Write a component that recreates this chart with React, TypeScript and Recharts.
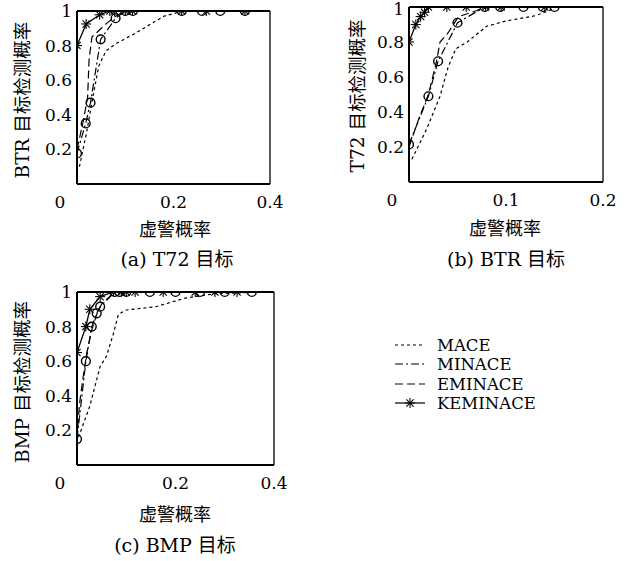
import React from 'react';
import { LineChart, Line, XAxis, YAxis, ReferenceLine } from 'recharts';

const FONT = "'DejaVu Serif', 'Noto Sans CJK SC', serif";

// ---------- Panel (a) T72 目标 ----------
const aMace: [number, number][] = [[0.005, 0.1], [0.02, 0.3], [0.034, 0.52], [0.045, 0.68], [0.06, 0.77], [0.08, 0.81], [0.12, 0.87], [0.18, 0.97], [0.22, 1], [0.26, 1], [0.3, 1], [0.348, 1]];
const aMinace: [number, number][] = [[0, 0.177], [0.018, 0.35], [0.028, 0.47], [0.049, 0.836], [0.08, 0.958], [0.1, 1], [0.116, 1], [0.217, 1], [0.259, 1], [0.297, 1], [0.348, 1]];
const aEminace: [number, number][] = [[0, 0.2], [0.012, 0.35], [0.022, 0.5], [0.025, 0.72], [0.031, 0.85], [0.062, 0.93], [0.08, 0.97], [0.1, 1], [0.348, 1]];
const aKeminace: [number, number][] = [[0, 0.8], [0.019, 0.925], [0.047, 0.978], [0.068, 1], [0.078, 1], [0.1, 1], [0.115, 1], [0.217, 1], [0.268, 1], [0.348, 1]];
const aXTicks = [0, 0.2, 0.4];

// ---------- Panel (b) BTR 目标 ----------
const bMace: [number, number][] = [[0.003, 0.13], [0.018, 0.3], [0.032, 0.49], [0.04, 0.65], [0.048, 0.76], [0.06, 0.8], [0.08, 0.89], [0.1, 0.92], [0.13, 0.95], [0.145, 0.98], [0.15, 1]];
const bMinace: [number, number][] = [[0, 0.215], [0.02, 0.49], [0.03, 0.69], [0.05, 0.91], [0.078, 1], [0.094, 1], [0.118, 1], [0.138, 1], [0.15, 1]];
const bEminace: [number, number][] = [[0, 0.2], [0.01, 0.36], [0.02, 0.5], [0.028, 0.68], [0.032, 0.8], [0.04, 0.85], [0.051, 0.945], [0.07, 0.98], [0.078, 1], [0.15, 1]];
const bKeminace: [number, number][] = [[0, 0.8], [0.007, 0.9], [0.012, 0.945], [0.016, 0.97], [0.02, 1], [0.039, 1], [0.059, 1], [0.079, 1], [0.095, 1], [0.14, 1]];
const bXTicks = [0, 0.1, 0.2];

// ---------- Panel (c) BMP 目标 ----------
const cMace: [number, number][] = [[0.003, 0.16], [0.026, 0.34], [0.047, 0.57], [0.06, 0.63], [0.074, 0.76], [0.084, 0.87], [0.1, 0.896], [0.16, 0.915], [0.22, 0.965], [0.28, 0.99], [0.38, 1]];
const cMinace: [number, number][] = [[0, 0.15], [0.018, 0.6], [0.03, 0.8], [0.04, 0.877], [0.047, 0.915], [0.077, 1], [0.086, 1], [0.1, 1], [0.148, 1], [0.2, 1], [0.25, 1], [0.3, 1], [0.355, 1]];
const cEminace: [number, number][] = [[0, 0.15], [0.005, 0.35], [0.012, 0.5], [0.02, 0.65], [0.03, 0.78], [0.04, 0.87], [0.05, 0.93], [0.077, 1], [0.355, 1]];
const cKeminace: [number, number][] = [[0, 0.65], [0.018, 0.8], [0.026, 0.9], [0.047, 0.973], [0.074, 1], [0.09, 1], [0.1, 1], [0.118, 1], [0.175, 1], [0.24, 1], [0.28, 1], [0.325, 1]];
const cXTicks = [0, 0.2, 0.4];

const yTicks = [0.2, 0.4, 0.6, 0.8, 1];
const legendNames = ['MACE', 'MINACE', 'EMINACE', 'KEMINACE'];

const toRows = (pts: [number, number][]) => pts.map(([x, y]) => ({ x, y }));

const Star = (props: any) => {
  const { cx, cy, index } = props;
  if (cx == null || cy == null) return <g key={index} />;
  const r = 5;
  const d = r * 0.72;
  return (
    <g key={index} stroke="#000" strokeWidth={1.1}>
      <line x1={cx - r} y1={cy} x2={cx + r} y2={cy} />
      <line x1={cx} y1={cy - r} x2={cx} y2={cy + r} />
      <line x1={cx - d} y1={cy - d} x2={cx + d} y2={cy + d} />
      <line x1={cx - d} y1={cy + d} x2={cx + d} y2={cy - d} />
    </g>
  );
};

const Ring = (props: any) => {
  const { cx, cy, index } = props;
  if (cx == null || cy == null) return <g key={index} />;
  return <circle key={index} cx={cx} cy={cy} r={4.4} fill="none" stroke="#000" strokeWidth={1.4} />;
};

const XTick = (props: any) => {
  const { x, y, payload } = props;
  const dx = payload.value === 0 ? -17 : 0;
  return (
    <text x={x + dx} y={y} textAnchor="middle" dominantBaseline="central" fontFamily={FONT} fontSize={17} fill="#000">
      {String(payload.value)}
    </text>
  );
};

const YTick = (props: any) => {
  const { x, y, payload } = props;
  return (
    <text x={x} y={y} textAnchor="end" dominantBaseline="central" fontFamily={FONT} fontSize={17} fill="#000">
      {String(payload.value)}
    </text>
  );
};

type PanelProps = {
  left: number; top: number; width: number; height: number;
  margin: { top: number; right: number; bottom: number; left: number };
  xMax: number; xTicks: number[];
  mace: [number, number][]; minace: [number, number][]; eminace: [number, number][]; keminace: [number, number][];
};

const Panel = (p: PanelProps) => (
  <div style={{ position: 'absolute', left: p.left, top: p.top }}>
    <LineChart width={p.width} height={p.height} margin={p.margin}>
      <XAxis
        dataKey="x" type="number" domain={[0, p.xMax]} ticks={p.xTicks} allowDataOverflow
        axisLine={{ stroke: '#000', strokeWidth: 2 }} tickLine={false} tickSize={0} tickMargin={18}
        tick={<XTick />} height={30}
      />
      <YAxis
        dataKey="y" type="number" domain={[0, 1]} ticks={yTicks} allowDataOverflow
        axisLine={{ stroke: '#000', strokeWidth: 2 }} tickLine={false} tickSize={0} tickMargin={5}
        tick={<YTick />} width={40}
      />
      <ReferenceLine y={1} stroke="#000" strokeWidth={1.8} ifOverflow="visible" />
      <ReferenceLine x={p.xMax} stroke="#000" strokeWidth={1.3} ifOverflow="visible" />
      <Line data={toRows(p.mace)} dataKey="y" type="linear" stroke="#000" strokeWidth={1.2} strokeDasharray="3 3" dot={false} isAnimationActive={false} />
      <Line data={toRows(p.eminace)} dataKey="y" type="linear" stroke="#000" strokeWidth={1.2} strokeDasharray="8 4" dot={false} isAnimationActive={false} />
      <Line data={toRows(p.minace)} dataKey="y" type="linear" stroke="#000" strokeWidth={1.2} strokeDasharray="8 3 2 3" dot={<Ring />} isAnimationActive={false} />
      <Line data={toRows(p.keminace)} dataKey="y" type="linear" stroke="#000" strokeWidth={1.3} dot={<Star />} isAnimationActive={false} />
    </LineChart>
  </div>
);

const txt = { fontFamily: FONT, fill: '#000' } as const;

export default function App() {
  const legendY = [345, 364, 384, 403];
  const legendDash = ['3 3', '8 3 2 3', '8 4', undefined];
  return (
    <div style={{ position: 'absolute', left: 0, top: 0, width: 629, height: 561, background: '#fff' }}>
      <Panel left={0} top={0} width={290} height={219}
        margin={{ top: 11, right: 20, bottom: 5, left: 37 }}
        xMax={0.4} xTicks={aXTicks}
        mace={aMace} minace={aMinace} eminace={aEminace} keminace={aKeminace} />
      <Panel left={330} top={0} width={293} height={217}
        margin={{ top: 7, right: 20, bottom: 5, left: 39 }}
        xMax={0.2} xTicks={bXTicks}
        mace={bMace} minace={bMinace} eminace={bEminace} keminace={bKeminace} />
      <Panel left={0} top={280} width={294} height={220}
        margin={{ top: 12, right: 20, bottom: 5, left: 37 }}
        xMax={0.4} xTicks={cXTicks}
        mace={cMace} minace={cMinace} eminace={cEminace} keminace={cKeminace} />
      <svg width={629} height={561} style={{ position: 'absolute', left: 0, top: 0, pointerEvents: 'none' }}>
        <text x={175} y={229} textAnchor="middle" dominantBaseline="central" fontSize={18} {...txt}>虚警概率</text>
        <text x={505} y={228} textAnchor="middle" dominantBaseline="central" fontSize={18} {...txt}>虚警概率</text>
        <text x={175} y={514} textAnchor="middle" dominantBaseline="central" fontSize={18} {...txt}>虚警概率</text>
        <text transform="translate(22,100) rotate(-90)" textAnchor="middle" dominantBaseline="central" fontSize={18.5} {...txt}>BTR 目标检测概率</text>
        <text transform="translate(357,96) rotate(-90)" textAnchor="middle" dominantBaseline="central" fontSize={18.5} {...txt}>T72 目标检测概率</text>
        <text transform="translate(22,382) rotate(-90)" textAnchor="middle" dominantBaseline="central" fontSize={18.5} {...txt}>BMP 目标检测概率</text>
        <text x={177} y={259} textAnchor="middle" dominantBaseline="central" fontSize={19} {...txt}>(a) T72 目标</text>
        <text x={506} y={259} textAnchor="middle" dominantBaseline="central" fontSize={19} {...txt}>(b) BTR 目标</text>
        <text x={175} y={545} textAnchor="middle" dominantBaseline="central" fontSize={19} {...txt}>(c) BMP 目标</text>
        {legendNames.map((n, i) => (
          <g key={n}>
            <line x1={395} x2={425} y1={legendY[i]} y2={legendY[i]} stroke="#000" strokeWidth={1.2} strokeDasharray={legendDash[i]} />
            {i === 3 && <Star cx={410} cy={legendY[i]} index={99} />}
            <text x={437} y={legendY[i]} dominantBaseline="central" fontSize={16.5} {...txt}>{n}</text>
          </g>
        ))}
      </svg>
    </div>
  );
}
